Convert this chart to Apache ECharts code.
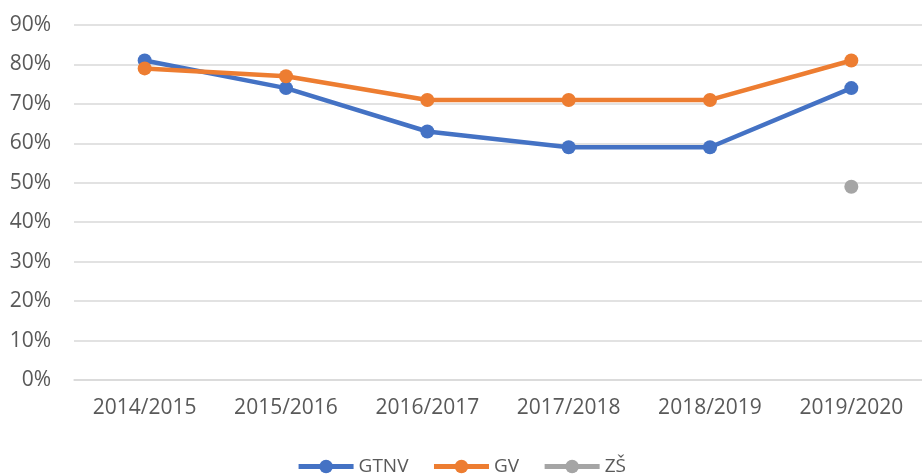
<!DOCTYPE html>
<html>
<head>
<meta charset="utf-8">
<script src="https://cdn.jsdelivr.net/npm/echarts@6/dist/echarts.min.js"></script>
<style>
html, body { margin: 0; padding: 0; background: #fff; }
#chart { width: 922px; height: 475px; }
</style>
</head>
<body>
<div id="chart"></div>
<script>
// school years on the x axis
var years = ['2014/2015', '2015/2016', '2016/2017', '2017/2018', '2018/2019', '2019/2020'];
// values in percent
var gtnv = [81, 74, 63, 59, 59, 74];
var gv = [79, 77, 71, 71, 71, 81];
var zs = [null, null, null, null, null, 49];

var chart = echarts.init(document.getElementById('chart'));

function lineSeries(name, data, color) {
    return {
        name: name,
        type: 'line',
        data: data,
        symbol: 'circle',
        symbolSize: 14,
        connectNulls: false,
        lineStyle: { width: 4.5, color: color },
        itemStyle: { color: color },
        emphasis: { disabled: true }
    };
}

chart.setOption({
    backgroundColor: '#fff',
    animation: false,
    textStyle: { fontFamily: 'Open Sans' },
    grid: {
        top: 25,
        left: 74,
        right: 0,
        bottom: 95
    },
    legend: {
        top: 452,
        left: 'center',
        itemWidth: 55,
        itemHeight: 17,
        itemGap: 23,
        lineStyle: { width: 5 },
        textStyle: { fontSize: 19, color: '#595959', fontFamily: 'Open Sans', padding: [0, 0, 0, 0] },
        data: ['GTNV', 'GV', 'ZŠ']
    },
    xAxis: {
        type: 'category',
        data: years,
        boundaryGap: true,
        axisLine: { lineStyle: { color: '#D9D9D9', width: 1.5 } },
        axisTick: { show: false },
        axisLabel: { fontSize: 21, color: '#595959', margin: 18 }
    },
    yAxis: {
        type: 'value',
        min: 0,
        max: 90,
        interval: 10,
        axisLine: { show: false },
        axisTick: { show: false },
        axisLabel: { fontSize: 21, color: '#595959', margin: 23, formatter: '{value}%' },
        splitLine: { lineStyle: { color: '#D9D9D9', width: 1.5 } }
    },
    series: [
        lineSeries('GTNV', gtnv, '#4472C4'),
        lineSeries('GV', gv, '#ED7D31'),
        lineSeries('ZŠ', zs, '#A5A5A5')
    ]
});
</script>
</body>
</html>
